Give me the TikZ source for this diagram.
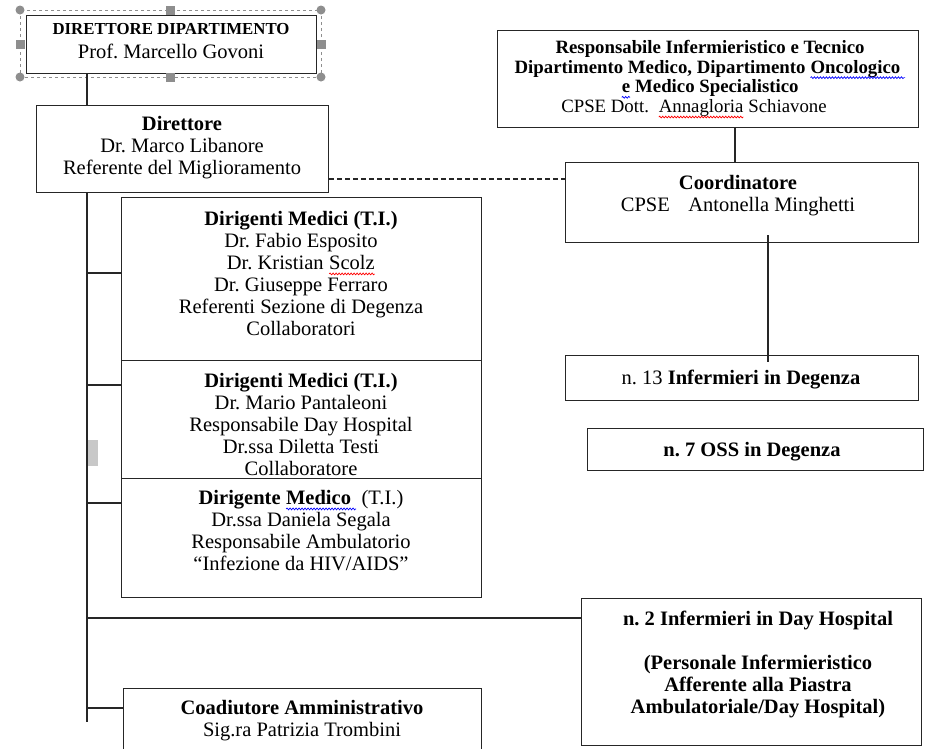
\documentclass[tikz,border=0pt]{standalone}
\usepackage{fontspec}
\setmainfont{Liberation Serif}
\usetikzlibrary{decorations.pathmorphing}
\frenchspacing
\newcommand\sqline[2]{\tikz[baseline=(sqw.base), x=1pt, y=1pt]{\node[inner sep=0pt, outer sep=0pt, anchor=base] (sqw) {#2};
  \draw[#1, line width=0.7pt, decorate, decoration={snake, amplitude=0.9pt, segment length=3pt}] ([yshift=-4.5pt]sqw.base west) -- ([yshift=-4.5pt]sqw.base east);}}
\definecolor{handle}{HTML}{8E8E8E}
\definecolor{selgray}{HTML}{C8C8C8}
\begin{document}
\begin{tikzpicture}[x=1pt,y=-1pt,
  box/.style={draw=black!85, line width=1.1pt, inner sep=0, anchor=north west},
  txt/.style={inner sep=0, align=center, font=\fontsize{20.5}{22}\selectfont, anchor=north},
  stxt/.style={inner sep=0, align=center, font=\fontsize{18.8}{19.7}\selectfont, anchor=north},
  conn/.style={draw=black!85, line width=1.1pt}]
\clip (0,0) rectangle (926,748);
\fill[white] (0,0) rectangle (926,748);

% boxes
\node[box, minimum width=290, minimum height=58] (top) at (26,15) {};
\node[box, minimum width=292, minimum height=87] (dir) at (36,105) {};
\node[box, minimum width=421, minimum height=97] (resp) at (497,30) {};
\node[box, minimum width=353, minimum height=80] (coord) at (565,162) {};
\node[box, minimum width=353, minimum height=45] (inf) at (565,355) {};
\node[box, minimum width=336, minimum height=42] (oss) at (587,428) {};
\node[box, minimum width=360, minimum height=163] (dm1) at (121,197) {};
\node[box, minimum width=360, minimum height=118] (dm2) at (121,360) {};
\node[box, minimum width=360, minimum height=119] (dm3) at (121,478) {};
\node[box, minimum width=340, minimum height=147] (dh) at (581,598) {};
\node[box, minimum width=358, minimum height=90] (coad) at (123,688) {};

% selection frame around top box
\draw[handle, dashed, line width=0.8pt] (20,10) rectangle (321,77);
\foreach \p in {(20,10),(321,10),(20,77),(321,77)} \fill[handle] \p circle (4.5);
\foreach \p in {(170,10),(170,77),(20,44),(321,44)} \fill[handle] \p ++(-4.5,-4.5) rectangle ++(9,9);

% texts
\node[txt, font=\fontsize{16.8}{20}\selectfont\bfseries] (topT1) at (171,23) {DIRETTORE DIPARTIMENTO};
\node[txt] (topT2) at (171,44) {Prof. Marcello Govoni};
\node[txt] (dirT) at (182,116) {\textbf{Direttore}\\Dr. Marco Libanore\\Referente del Miglioramento};
\node[stxt] (respT) at (710,40) {\textbf{Responsabile Infermieristico e Tecnico}\\
  \textbf{Dipartimento Medico, Dipartimento \sqline{blue}{Oncologico\ }}\\
  \textbf{\sqline{blue}{e} Medico Specialistico}\\
  CPSE Dott.\ \ \sqline{red}{Annagloria} Schiavone\hspace*{32pt}};
\node[txt] (coordT) at (738,175) {\textbf{Coordinatore}\\CPSE\hspace{0.9em}Antonella Minghetti};
\node[txt] (infT) at (741,370) {n. 13 \textbf{Infermieri in Degenza}};
\node[txt] (ossT) at (752,442) {\textbf{n. 7 OSS in Degenza}};
\node[txt] (dm1T) at (301,211) {\textbf{Dirigenti Medici (T.I.)}\\Dr. Fabio Esposito\\Dr. Kristian \sqline{red}{Scolz}\\Dr. Giuseppe Ferraro\\Referenti Sezione di Degenza\\Collaboratori};
\node[txt] (dm2T) at (301,373) {\textbf{Dirigenti Medici (T.I.)}\\Dr. Mario Pantaleoni\\Responsabile Day Hospital\\Dr.ssa Diletta Testi\\Collaboratore};
\node[txt] (dm3T) at (301,490) {\textbf{Dirigente \sqline{blue}{Medico\ }}\ (T.I.)\\Dr.ssa Daniela Segala\\Responsabile Ambulatorio\\“Infezione da HIV/AIDS”};
\node[txt] (dhT) at (758,611) {\textbf{n. 2 Infermieri in Day Hospital}\\[22pt]\textbf{(Personale Infermieristico}\\\textbf{Afferente alla Piastra}\\\textbf{Ambulatoriale/Day Hospital)}};
\node[txt] (coadT) at (302,700) {\textbf{Coadiutore Amministrativo}\\Sig.ra Patrizia Trombini};

% grey mark
\fill[selgray] (88,440) rectangle (98,466);

% connectors
\coordinate (sx) at (87,0);
\coordinate (spineEnd) at (87,722);
\draw[conn] (top.south -| sx) -- (dir.north -| sx);
\draw[conn] (dir.south -| sx) -- (spineEnd);
\coordinate (t1) at (87,273);
\coordinate (t2) at (87,385);
\coordinate (t3) at (87,503);
\coordinate (t4) at (87,618);
\coordinate (t5) at (87,708);
\draw[conn] (t1) -- (t1 -| dm1.west);
\draw[conn] (t2) -- (t2 -| dm2.west);
\draw[conn] (t3) -- (t3 -| dm3.west);
\draw[conn] (t4) -- (t4 -| dh.west);
\draw[conn] (t5) -- (t5 -| coad.west);
\coordinate (d1) at (0,179);
\draw[conn, line width=1.2pt, dash pattern=on 5pt off 3pt] (dir.east |- d1) -- (coord.west |- d1);
\coordinate (rc) at (735,0);
\draw[conn] (resp.south -| rc) -- (coord.north -| rc);
\coordinate (ci1) at (768,235);
\coordinate (ci2) at (768,362);
\draw[conn] (ci1) -- (ci2);
\end{tikzpicture}
\end{document}
